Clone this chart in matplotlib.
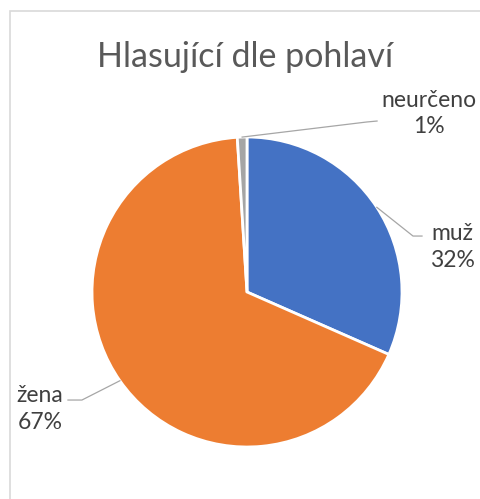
import numpy as np
import matplotlib
matplotlib.use("Agg")
import matplotlib.pyplot as plt
from matplotlib.patches import Rectangle

# data
labels = ["muž", "žena", "neurčeno"]
shares = [31.6, 67.4, 1.0]
colors = ["#4472C4", "#ED7D31", "#A5A5A5"]
title = "Hlasující dle pohlaví"

# label layout (pie radius units): elbow of leader, end of leader, text anchor
elbows = [(1.071, 0.361), (-1.065, -0.697), (0.774, 1.097)]
ends = [(1.129, 0.361), (-1.155, -0.697), (0.839, 1.103)]
text_pos = [(1.181, 0.29), (-1.335, -0.755), (1.174, 1.150)]
text_ha = ["left", "center", "center"]

plt.rcParams["font.family"] = ["Lato", "DejaVu Sans"]

W, H = 480, 499
fig = plt.figure(figsize=(W / 100, H / 100), dpi=100)

cx, cy, r = 247, 292, 155
ax = fig.add_axes([(cx - r) / W, (H - cy - r) / H, 2 * r / W, 2 * r / H])
wedges, _ = ax.pie(shares, colors=colors, startangle=90, counterclock=False,
                   radius=1, wedgeprops=dict(edgecolor="white", linewidth=2))
ax.set_xlim(-1, 1)
ax.set_ylim(-1, 1)
ax.axis("off")

total = sum(shares)
for i, (lab, val) in enumerate(zip(labels, shares)):
    w = wedges[i]
    mid = np.deg2rad((w.theta1 + w.theta2) / 2)
    p0 = (np.cos(mid), np.sin(mid))
    xs = [p0[0], elbows[i][0], ends[i][0]]
    ys = [p0[1], elbows[i][1], ends[i][1]]
    ax.plot(xs, ys, color="#A6A6A6", lw=0.9, clip_on=False)
    pct = round(val / total * 100)
    ax.text(text_pos[i][0], text_pos[i][1], f"{lab}\n{pct}%", ha=text_ha[i],
            va="center", fontsize=16.5, color="#404040", linespacing=1.3,
            multialignment="center", clip_on=False)

fig.text(245 / W, 1 - 57 / H, title, ha="center", va="center",
         fontsize=24.5, color="#595959")

# chart frame (cut off at right and bottom)
fig.add_artist(Rectangle((9.5 / W, -0.1), 1.2, 1 - 10.5 / H + 0.1,
                         transform=fig.transFigure, fill=False,
                         edgecolor="#D9D9D9", lw=1.2))

fig.savefig("out.png", dpi=100, facecolor="white")
